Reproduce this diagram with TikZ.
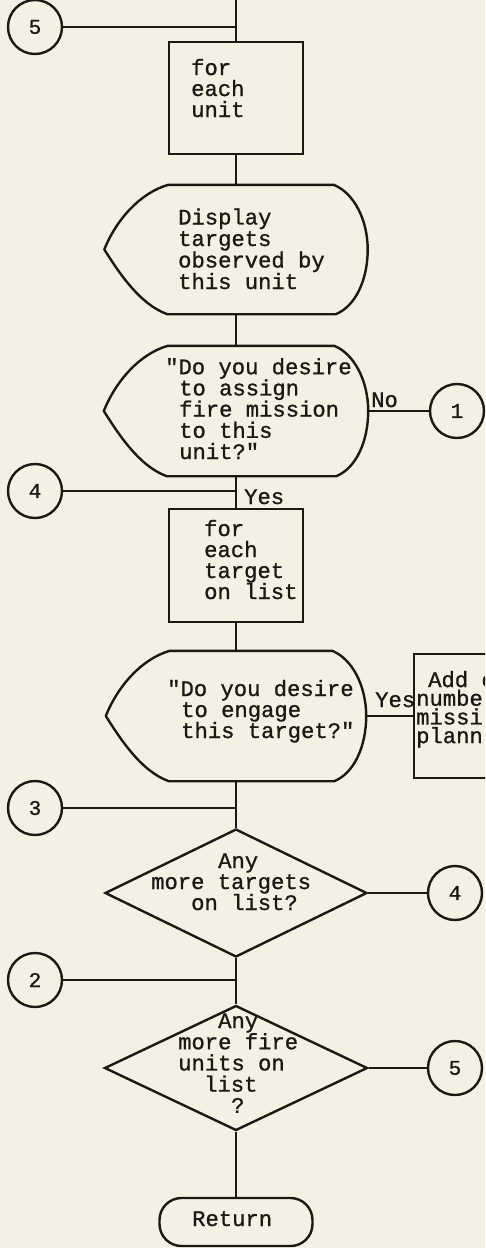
\documentclass[tikz,border=0pt]{standalone}
\usepackage{fontspec}
\newfontfamily\typer[FakeBold=1]{Liberation Mono}
\usetikzlibrary{shapes.geometric}
\definecolor{paper}{RGB}{243,241,228}
\definecolor{ink}{RGB}{28,24,20}
\tikzset{every picture/.style={line width=2.4pt}}
\tikzset{
  flow/.style={draw=ink, line width=2.4pt, line join=round},
  procbox/.style={draw=ink, rectangle, inner sep=0pt, line width=2.4pt},
  dispbox/.style={rectangle, inner sep=0pt},
  decide/.style={draw=ink, diamond, inner sep=0pt, line width=2.4pt},
  endbox/.style={draw=ink, rectangle, rounded corners=22pt, inner sep=0pt, line width=2.4pt},
  jumpc/.style={draw=ink, circle, minimum size=54pt, inner sep=0pt, line width=2.4pt, text=ink, font=\typer\fontsize{21}{21}\selectfont},
  txt/.style={anchor=base west, inner sep=0pt, text=ink, font=\typer\fontsize{22.2}{21}\selectfont},
  tighttxt/.style={txt, text height=12pt, text depth=3pt},
}

\begin{document}
\begin{tikzpicture}[x=1pt,y=1pt,yscale=-1,xscale=1]
\useasboundingbox (0,0) rectangle (485,1248);
\clip (0,0) rectangle (485,1248);
\fill[paper] (0,0) rectangle (485,1248);

%Shapes
\node[procbox, minimum width=134pt, minimum height=112pt] (unitloop) at (236,98) {};
\node[dispbox, minimum width=261pt, minimum height=127pt] (dispobs) at (236,249.5) {};
\node[dispbox, minimum width=262pt, minimum height=128pt] (askunit) at (236,411) {};
\node[procbox, minimum width=134pt, minimum height=113pt] (tgtloop) at (236,565.5) {};
\node[dispbox, minimum width=258pt, minimum height=128pt] (asktgt) at (236,716) {};
\node[procbox, minimum width=130pt, minimum height=124pt, anchor=west] (tally) at (413,716) {};
\node[decide, minimum width=262pt, minimum height=128pt] (moretgt) at (236,893) {};
\node[decide, minimum width=263pt, minimum height=125pt] (moreunit) at (236,1068) {};
\node[endbox, minimum width=153pt, minimum height=48pt] (done) at (236,1222) {};

%Display outlines
\foreach \d in {dispobs,askunit,asktgt}
  \draw[flow] ([xshift=64pt]\d.north west) -- ([xshift=-34pt]\d.north east)
    .. controls +(20,8) and +(0,-30) .. (\d.east)
    .. controls +(0,30) and +(20,-8) .. ([xshift=-32pt]\d.south east)
    -- ([xshift=63pt]\d.south west)
    .. controls +(-28,-10) and +(14,22) .. (\d.west)
    .. controls +(12,-30) and +(-28,8) .. ([xshift=64pt]\d.north west) -- cycle;

%Connectors (circles)
\node[jumpc] (jump5) at (35,27) {5};
\node[jumpc] (jump1) at (457,411) {1};
\node[jumpc] (join4) at (35,491) {4};
\node[jumpc] (join3) at (35,808) {3};
\node[jumpc] (jump4) at (455,893) {4};
\node[jumpc] (join2) at (35,980) {2};
\node[jumpc] (jump5b) at (455,1068) {5};

%Flow lines
\coordinate (entry) at (236,-4);
\draw[flow] (entry) -- (unitloop.north);
\draw[flow] (jump5.east) -- (jump5.east -| unitloop.north);
\draw[flow] (unitloop.south) -- (dispobs.north);
\draw[flow] (dispobs.south) -- (askunit.north);
\draw[flow] (askunit.south) -- (tgtloop.north);
\draw[flow] (join4.east) -- (join4.east -| tgtloop.north);
\draw[flow] (tgtloop.south) -- (asktgt.north);
\draw[flow] (asktgt.south) -- (moretgt.north);
\draw[flow] (join3.east) -- (join3.east -| moretgt.north);
\draw[flow] (moretgt.south) -- (moreunit.north);
\draw[flow] (join2.east) -- (join2.east -| moreunit.north);
\draw[flow] (moreunit.south) -- (done.north);
\draw[flow] (askunit.east) -- (jump1.west);
\draw[flow] (asktgt.east) -- (tally.west);
\draw[flow] (moretgt.east) -- (jump4.west);
\draw[flow] (moreunit.east) -- (jump5b.west);

% Text Nodes
\foreach \t [count=\i] in {for,each,unit}
  \node[txt] (unitloop-t\i) at (190,{54+21*\i}) {\t};
\foreach \t [count=\i] in {Display,targets,observed by,this unit}
  \node[txt] (dispobs-t\i) at (177,{203+21.5*\i}) {\t};
\foreach \x/\t [count=\i] in {164/"Do you desire,178/to assign,178/fire mission,178/to this,178/unit?"}
  \node[txt] (askunit-t\i) at (\x,{353+21.2*\i}) {\t};
\foreach \t [count=\i] in {for,each,target,on list}
  \node[txt] (tgtloop-t\i) at (203,{515+21*\i}) {\t};
\foreach \x/\t [count=\i] in {166/"Do you desire,180/to engage,180/this target?"}
  \node[txt] (asktgt-t\i) at (\x,{675+21*\i}) {\t};
\foreach \x/\t [count=\i] in {427/Add c,415/numbe,415/missi,415/plann}
  \node[tighttxt] (tally-t\i) at (\x,{668.3+18.7*\i}) {\t};
\foreach \x/\t [count=\i] in {217/Any,150/more targets,190/on list?}
  \node[txt] (moretgt-t\i) at (\x,{847+21*\i}) {\t};
\foreach \x/\t [count=\i] in {217/Any,177/more fire,177/units on,203/list,230/?}
  \node[txt] (moreunit-t\i) at (\x,{1006.8+21.2*\i}) {\t};
\node[txt] (done-t) at (191,1226) {Return};

% Branch labels
\node[txt] (no-unit) at (370,407) {No};
\node[txt] (yes-unit) at (243,504) {Yes};
\node[txt] (yes-tgt) at (374,707) {Yes};

\end{tikzpicture}
\end{document}
